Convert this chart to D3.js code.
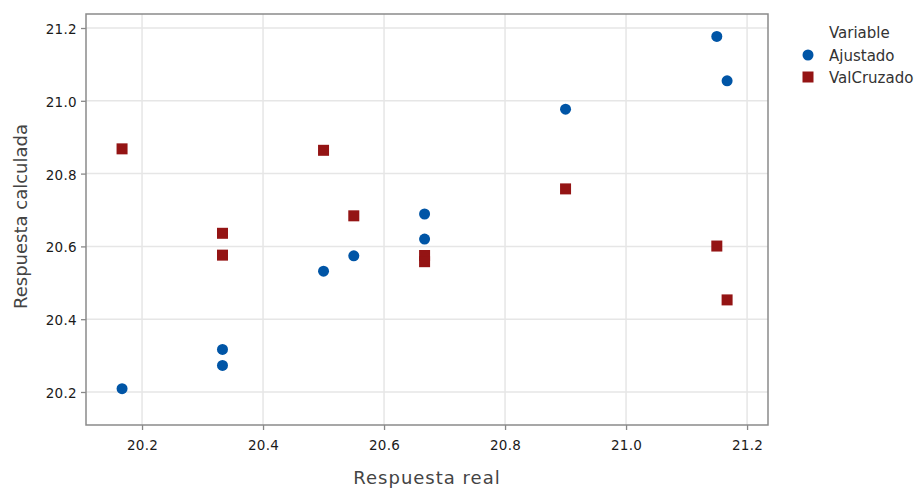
<!DOCTYPE html>
<html><head><meta charset="utf-8">
<script src="https://cdn.jsdelivr.net/npm/d3@7"></script>
<style>
body{margin:0;background:#fff;}
text{font-family:"DejaVu Sans","Open Sans",sans-serif;}
</style></head>
<body>
<svg id="c" width="918" height="488"></svg>
<script>
const seriesNames = ["Ajustado", "ValCruzado"];
const realX = [20.167, 20.333, 20.333, 20.500, 20.550, 20.667, 20.667, 20.900, 21.150, 21.167];
const ajustado = [20.209, 20.317, 20.273, 20.532, 20.574, 20.689, 20.620, 20.977, 21.177, 21.055];
const valCruzadoX = [20.167, 20.333, 20.333, 20.500, 20.550, 20.667, 20.667, 20.900, 21.150, 21.167];
const valCruzado = [20.868, 20.636, 20.576, 20.864, 20.684, 20.575, 20.558, 20.758, 20.601, 20.453];
const xTicks = [20.2, 20.4, 20.6, 20.8, 21.0, 21.2];
const yTicks = [20.2, 20.4, 20.6, 20.8, 21.0, 21.2];

const svg = d3.select("#c");
const L = 86, R = 768, T = 14, B = 425;
const x = d3.scaleLinear().domain([20.1074, 21.2346]).range([L, R]);
const y = d3.scaleLinear().domain([20.1093, 21.2385]).range([B, T]);
const blue = "#0055a6", red = "#941414";

// grid
svg.append("g").selectAll("line").data(xTicks).join("line")
  .attr("x1", d => x(d)).attr("x2", d => x(d)).attr("y1", T).attr("y2", B)
  .attr("stroke", "#e6e6e6").attr("stroke-width", 1.5);
svg.append("g").selectAll("line").data(yTicks).join("line")
  .attr("y1", d => y(d)).attr("y2", d => y(d)).attr("x1", L).attr("x2", R)
  .attr("stroke", "#e6e6e6").attr("stroke-width", 1.5);

// axes
const fmt = d3.format(".1f");
const xa = svg.append("g").attr("transform", `translate(0,${B})`)
  .call(d3.axisBottom(x).tickValues(xTicks).tickFormat(fmt).tickSize(5).tickSizeOuter(0));
const ya = svg.append("g").attr("transform", `translate(${L},0)`)
  .call(d3.axisLeft(y).tickValues(yTicks).tickFormat(fmt).tickSize(5).tickSizeOuter(0));
[xa, ya].forEach(g => {
  g.select(".domain").remove();
  g.selectAll("line").attr("stroke", "#888").attr("stroke-width", 1.3);
  g.selectAll("text").attr("fill", "#1a1a1a").attr("font-size", 13.5).attr("letter-spacing", "0.3px");
});
xa.selectAll("text").attr("y", 9).attr("dy", "1.15em");
ya.selectAll("text").attr("x", -9).attr("dy", "0.4em");

// frame
svg.append("rect").attr("x", L).attr("y", T).attr("width", R - L).attr("height", B - T)
  .attr("fill", "none").attr("stroke", "#8a8a8a").attr("stroke-width", 1.5);

// points
const sq = 11;
svg.append("g").selectAll("rect").data(valCruzado).join("rect")
  .attr("x", (d, i) => x(valCruzadoX[i]) - sq / 2).attr("y", d => y(d) - sq / 2)
  .attr("width", sq).attr("height", sq).attr("fill", red);
svg.append("g").selectAll("circle").data(ajustado).join("circle")
  .attr("cx", (d, i) => x(realX[i])).attr("cy", d => y(d)).attr("r", 5.5).attr("fill", blue);

// axis titles
svg.append("text").attr("x", (L + R) / 2).attr("y", 484).attr("text-anchor", "middle")
  .attr("font-size", 18).attr("letter-spacing", "1px").attr("fill", "#444").text("Respuesta real");
svg.append("text").attr("transform", `translate(27,${(T + B) / 2 - 3}) rotate(-90)`)
  .attr("text-anchor", "middle").attr("font-size", 18).attr("fill", "#444").text("Respuesta calculada");

// legend
const lg = svg.append("g");
lg.append("text").attr("x", 829).attr("y", 38).attr("font-size", 15).attr("fill", "#333").text("Variable");
seriesNames.forEach((s, i) => {
  const cy = 55 + i * 22;
  if (i === 0) lg.append("circle").attr("cx", 808).attr("cy", cy).attr("r", 5.5).attr("fill", blue);
  else lg.append("rect").attr("x", 808 - 5.5).attr("y", cy - 5.5).attr("width", 11).attr("height", 11).attr("fill", red);
  lg.append("text").attr("x", 829).attr("y", cy + 5.5).attr("font-size", 15).attr("fill", "#333").text(s);
});
</script>
</body></html>
